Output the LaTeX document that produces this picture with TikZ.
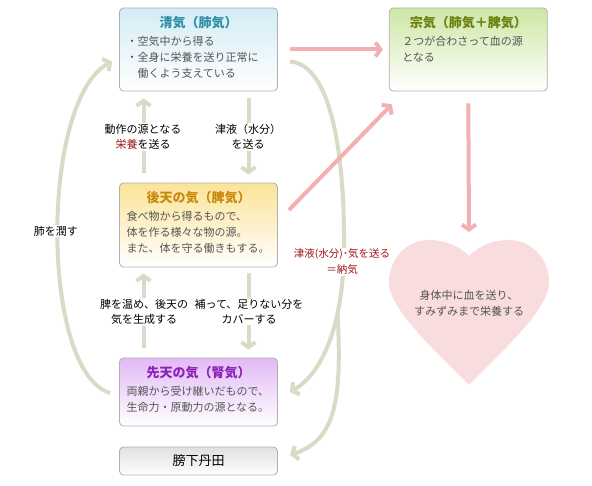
\documentclass[tikz,border=0pt]{standalone}
\usepackage{fontspec}
\setmainfont{Noto Sans CJK JP}
\usetikzlibrary{arrows.meta,positioning,calc}

\definecolor{boxgray}{HTML}{B0B0B0}
\definecolor{bodygray}{HTML}{555555}
\definecolor{seitop}{HTML}{D3ECF5}
\definecolor{seititle}{HTML}{2F8EA6}
\definecolor{soutop}{HTML}{CDE7A4}
\definecolor{soutitle}{HTML}{6D7F10}
\definecolor{koutop}{HTML}{FBE398}
\definecolor{koutitle}{HTML}{C98A0C}
\definecolor{sentop}{HTML}{E2BAF5}
\definecolor{sentitle}{HTML}{8A22B8}
\definecolor{getop}{HTML}{E0E0E0}
\definecolor{flowgray}{HTML}{DADAC6}
\definecolor{pinkline}{HTML}{F4B0B0}
\definecolor{heartfill}{HTML}{F9DCDD}
\definecolor{labred}{HTML}{A31515}

\newcommand{\boxtitle}[2]{\makebox[144pt]{\fontsize{13}{16}\selectfont\bfseries\color{#1}#2}}

\begin{document}
\begin{tikzpicture}
	[x=1pt,y=-1pt,
		box/.style={draw=boxgray,line width=0.8pt,rounded corners=4pt,minimum width=158pt,minimum height=83pt,bottom color=white},
		boxtext/.style={anchor=north,text width=144pt,align=left,inner sep=0pt,text=bodygray,font=\fontsize{11}{16}\selectfont},
		note/.style={fill=white,align=center,inner sep=1pt,font=\fontsize{11}{15}\selectfont},
		flow/.style={draw=flowgray,line width=4pt,-{Straight Barb[length=5pt,width=14pt]}},
		feed/.style={draw=pinkline,line width=4pt,-{Straight Barb[length=5pt,width=14pt]}}]

	\useasboundingbox (0,0) rectangle (592,486);

	% boxes
	\node[box,top color=seitop] (sei) at (198.5,49.5) {};
	\node[box,top color=soutop,right=111pt of sei] (sou) {};
	\node[box,top color=koutop,minimum height=84pt] (kou) at (198.5,225) {};
	\node[box,top color=sentop,minimum height=68pt] (sen) at (198.5,392) {};
	\node[box,top color=getop,minimum height=28pt,font=\fontsize{13}{16}\selectfont] (ge) at (198.5,461) {膀下丹田};

	% box texts
	\node[boxtext] (seiT) at ($(sei.north)+(0,8)$) {\boxtitle{seititle}{清気（肺気）}\\[2pt]・空気中から得る\\・全身に栄養を送り正常に\\\phantom{・}働くよう支えている};
	\node[boxtext] (souT) at ($(sou.north)+(0,8)$) {\boxtitle{soutitle}{宗気（肺気＋脾気）}\\[2pt]\hspace*{6pt}２つが合わさって血の源\\\hspace*{6pt}となる};
	\node[boxtext] (kouT) at ($(kou.north)+(0,8)$) {\boxtitle{koutitle}{後天の気（脾気）}\\[2pt]食べ物から得るもので、\\体を作る様々な物の源。\\また、体を守る働きもする。};
	\node[boxtext] (senT) at ($(sen.north)+(0,8)$) {\boxtitle{sentitle}{先天の気（腎気）}\\[2pt]両親から受け継いだもので、\\生命力・原動力の源となる。};

	% gray flows
	\draw[flow] ($(kou.north)+(-55,-10)$) -- ($(sei.south)+(-55,7)$);
	\draw[flow] ($(sei.south)+(50,7)$) -- ($(kou.north)+(50,-8)$);
	\draw[flow] ($(sen.north)+(-55,-10)$) -- ($(kou.south)+(-55,6)$);
	\draw[flow] ($(kou.south)+(50,6)$) -- ($(sen.north)+(50,-8)$);
	\draw[flow] ($(sen.west)+(-9,1)$) .. controls (40,372) and (40,100) .. ($(sei.west)+(-7,12)$);
	\draw[flow] ($(sei.east)+(12,12)$) .. controls (330,64) and (345,150) .. (344,250)
		.. controls (343,330) and (320,375) .. ($(sen.east)+(12,0)$) coordinate[pos=0.3] (split);
	\draw[flow] (split) .. controls (342,400) and (336,440) .. ($(ge.east)+(12,-6)$);

	% labels
	\node[note] (upL) at (143,137) {動作の源となる\\{\color{labred}栄養}を送る};
	\node[note] (upR) at (248,137) {津液（水分）\\を送る};
	\node[note] (loL) at (144,312) {脾を温め、後天の\\気を生成する};
	\node[note] (loR) at (249,312) {補って、足りない分を\\カバーする};
	\node[note] (lung) at (56,231) {肺を潤す};
	\node[note,text=labred,font=\fontsize{10.5}{16}\selectfont] (nouki) at (342,262) {津液(水分)･気を送る\\＝納気};

	% heart
	\fill[heartfill] (469,385) .. controls (440,355) and (389,310) .. (389,283)
		.. controls (389,257) and (408,240) .. (429,240)
		.. controls (450,240) and (463,250) .. (469,256)
		.. controls (475,250) and (488,240) .. (509,240)
		.. controls (530,240) and (549,257) .. (549,283)
		.. controls (549,310) and (498,355) .. (469,385);
	\coordinate (heartTop) at (469,240);
	\node[font=\fontsize{11}{16}\selectfont,text=bodygray,align=center] (heart) at (469,303) {身体中に血を送り、\\すみずみまで栄養する};

	% pink flows
	\draw[feed,shorten <=12pt,shorten >=6pt] (sei.east) -- (sou.west);
	\draw[feed] ($(kou.east)+(11,-15)$) -- ($(sou.south west)+(3,13)$);
	\draw[feed] ($(sou.south)+(0,12)$) -- ($(heartTop)+(0,-8)$);

\end{tikzpicture}
\end{document}
